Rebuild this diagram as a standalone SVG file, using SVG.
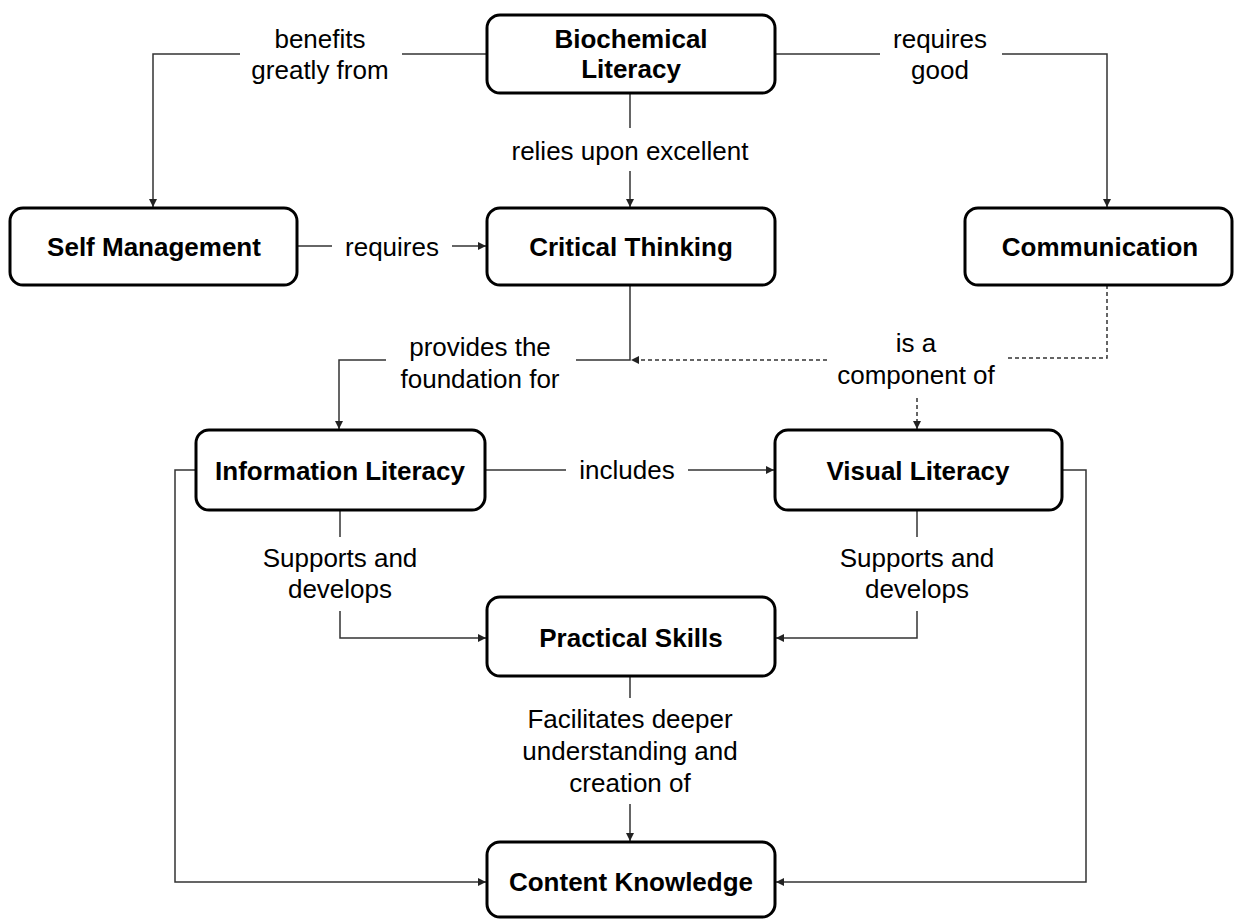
<svg xmlns="http://www.w3.org/2000/svg" width="1240" height="919" viewBox="0 0 1240 919">
  <style>
    .node rect { fill: #ffffff; stroke: #000000; stroke-width: 3; }
    .node text { font-family: "Liberation Sans", Arial, sans-serif; font-size: 26px; font-weight: bold; fill: #000; text-anchor: middle; }
    .lbl { font-family: "Liberation Sans", Arial, sans-serif; font-size: 26px; fill: #000; text-anchor: middle; }
    .edge { fill: none; stroke: #333333; stroke-width: 1.5; }
    .dash { stroke-dasharray: 4 3; }
  </style>
  <defs>
    <marker id="arrow" viewBox="0 0 10 10" refX="10" refY="5" markerWidth="8" markerHeight="8" markerUnits="userSpaceOnUse" orient="auto">
      <path d="M0,0 L10,5 L0,10 Z" fill="#222222"/>
    </marker>
  </defs>

  <rect width="1240" height="919" fill="#ffffff"/>

  <!-- connectors -->
  <g id="connectors">
    <!-- Biochemical Literacy -> Self Management -->
    <path class="edge" d="M487,54 H402"/>
    <path class="edge" d="M240,54 H153 V207" marker-end="url(#arrow)"/>
    <!-- Biochemical Literacy -> Communication -->
    <path class="edge" d="M775,54 H880"/>
    <path class="edge" d="M1002,54 H1107 V207" marker-end="url(#arrow)"/>
    <!-- Biochemical Literacy -> Critical Thinking -->
    <path class="edge" d="M630,93 V128"/>
    <path class="edge" d="M630,171 V207" marker-end="url(#arrow)"/>
    <!-- Self Management -> Critical Thinking -->
    <path class="edge" d="M297,246 H332"/>
    <path class="edge" d="M452,246 H486" marker-end="url(#arrow)"/>
    <!-- Critical Thinking -> Information Literacy -->
    <path class="edge" d="M630,285 V360 H576"/>
    <path class="edge" d="M386,360 H339 V429" marker-end="url(#arrow)"/>
    <!-- Communication -> Critical Thinking / Visual Literacy (dashed) -->
    <path class="edge dash" d="M1107,285 V358 H1006"/>
    <path class="edge dash" d="M827,360 H631" marker-end="url(#arrow)"/>
    <path class="edge dash" d="M917,398 V429" marker-end="url(#arrow)"/>
    <!-- Information Literacy -> Visual Literacy -->
    <path class="edge" d="M485,470 H566"/>
    <path class="edge" d="M688,470 H774" marker-end="url(#arrow)"/>
    <!-- Information Literacy -> Practical Skills -->
    <path class="edge" d="M340,510 V537"/>
    <path class="edge" d="M340,611 V638 H486" marker-end="url(#arrow)"/>
    <!-- Visual Literacy -> Practical Skills -->
    <path class="edge" d="M917,510 V537"/>
    <path class="edge" d="M917,611 V638 H776" marker-end="url(#arrow)"/>
    <!-- Practical Skills -> Content Knowledge -->
    <path class="edge" d="M630,676 V698"/>
    <path class="edge" d="M630,804 V841" marker-end="url(#arrow)"/>
    <!-- Information Literacy -> Content Knowledge -->
    <path class="edge" d="M196,470 H175 V882 H486" marker-end="url(#arrow)"/>
    <!-- Visual Literacy -> Content Knowledge -->
    <path class="edge" d="M1062,470 H1086 V882 H776" marker-end="url(#arrow)"/>
  </g>

  <!-- connector labels -->
  <g id="labels">
    <text class="lbl" x="320" y="48">benefits</text>
    <text class="lbl" x="320" y="79">greatly from</text>
    <text class="lbl" x="940" y="48">requires</text>
    <text class="lbl" x="940" y="79">good</text>
    <text class="lbl" x="630" y="160">relies upon excellent</text>
    <text class="lbl" x="392" y="256">requires</text>
    <text class="lbl" x="480" y="356">provides the</text>
    <text class="lbl" x="480" y="388">foundation for</text>
    <text class="lbl" x="916" y="352">is a</text>
    <text class="lbl" x="916" y="384">component of</text>
    <text class="lbl" x="627" y="479">includes</text>
    <text class="lbl" x="340" y="567">Supports and</text>
    <text class="lbl" x="340" y="598">develops</text>
    <text class="lbl" x="917" y="567">Supports and</text>
    <text class="lbl" x="917" y="598">develops</text>
    <text class="lbl" x="630" y="728">Facilitates deeper</text>
    <text class="lbl" x="630" y="760">understanding and</text>
    <text class="lbl" x="630" y="792">creation of</text>
  </g>

  <!-- nodes -->
  <g id="biochemical-literacy" class="node">
    <rect x="487" y="15" width="288" height="78" rx="13"/>
    <text x="631" y="48">Biochemical</text>
    <text x="631" y="78">Literacy</text>
  </g>
  <g id="self-management" class="node">
    <rect x="10" y="208" width="287" height="77" rx="13"/>
    <text x="154" y="256">Self Management</text>
  </g>
  <g id="critical-thinking" class="node">
    <rect x="487" y="208" width="288" height="77" rx="13"/>
    <text x="631" y="256">Critical Thinking</text>
  </g>
  <g id="communication" class="node">
    <rect x="965" y="208" width="267" height="77" rx="13"/>
    <text x="1100" y="256">Communication</text>
  </g>
  <g id="information-literacy" class="node">
    <rect x="196" y="430" width="289" height="80" rx="13"/>
    <text x="340" y="480">Information Literacy</text>
  </g>
  <g id="visual-literacy" class="node">
    <rect x="775" y="430" width="287" height="80" rx="13"/>
    <text x="918" y="480">Visual Literacy</text>
  </g>
  <g id="practical-skills" class="node">
    <rect x="487" y="597" width="288" height="79" rx="13"/>
    <text x="631" y="647">Practical Skills</text>
  </g>
  <g id="content-knowledge" class="node">
    <rect x="487" y="842" width="288" height="75" rx="13"/>
    <text x="631" y="891">Content Knowledge</text>
  </g>
</svg>
